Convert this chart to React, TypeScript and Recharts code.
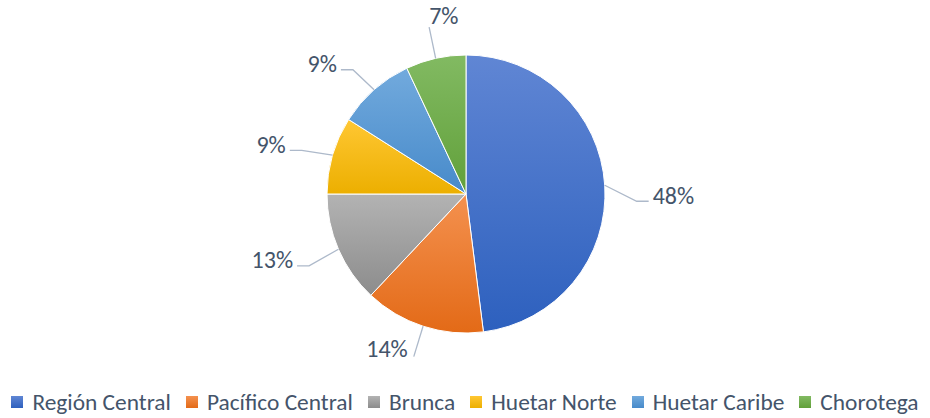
import React from "react";
import { PieChart, Pie, Cell, Legend } from "recharts";

const regions = ["Región Central", "Pacífico Central", "Brunca", "Huetar Norte", "Huetar Caribe", "Chorotega"];
const shares = [48, 14, 13, 9, 9, 7];
const topColors = ["#6086D4", "#F4914F", "#B3B3B3", "#FFC733", "#72AADD", "#82BA62"];
const bottomColors = ["#2D60BE", "#E36A17", "#8C8C8C", "#ECAF00", "#478ACA", "#61A03A"];

const data = regions.map((name, i) => ({ name, value: shares[i] }));

const RAD = Math.PI / 180;
const TEXT = "#44546A";
const LEADER = "#ADB9CA";
const FONT = "Calibri, Carlito, 'Liberation Sans', Arial, sans-serif";

const renderLabel = (p: any) => {
  const { cx, cy, midAngle, outerRadius, value } = p;
  const c = Math.cos(-midAngle * RAD);
  const s = Math.sin(-midAngle * RAD);
  const sx = cx + outerRadius * c;
  const sy = cy + outerRadius * s;

  if (Math.abs(c) < 0.4) {
    // near top / bottom: short leader, text at its end
    const ex = cx + (outerRadius + 30) * c;
    const ey = cy + (outerRadius + 32) * s;
    const top = s < 0;
    return (
      <g>
        <polyline points={`${sx},${sy} ${ex},${ey}`} fill="none" stroke={LEADER} strokeWidth={1.3} />
        <text
          x={top ? ex : ex - 6}
          y={top ? ey - 12 : ey - 8}
          textAnchor={top ? "start" : "end"}
          dominantBaseline="central"
          fill={TEXT}
          fontSize={24}
          fontFamily={FONT}
        >
          {`${value}%`}
        </text>
      </g>
    );
  }

  const ex = cx + (outerRadius + 32) * c;
  const ey = cy + (outerRadius + 32) * s + (c > 0 ? 18 : 4);
  const dir = c > 0 ? 1 : -1;
  const hx = ex + dir * 12;
  return (
    <g>
      <polyline points={`${sx},${sy} ${ex},${ey} ${hx},${ey}`} fill="none" stroke={LEADER} strokeWidth={1.3} />
      <text
        x={hx + dir * 4}
        y={ey - 6}
        textAnchor={dir > 0 ? "start" : "end"}
        dominantBaseline="central"
        fill={TEXT}
        fontSize={24}
        fontFamily={FONT}
      >
        {`${value}%`}
      </text>
    </g>
  );
};

const renderLegend = () => (
  <div
    style={{
      display: "flex",
      justifyContent: "center",
      alignItems: "center",
      gap: 15,
      fontFamily: FONT,
      fontSize: 23.4,
      lineHeight: "24px",
      color: TEXT,
      whiteSpace: "nowrap",
    }}
  >
    {regions.map((name, i) => (
      <div key={name} style={{ display: "flex", alignItems: "center", gap: 9 }}>
        <span
          style={{
            display: "inline-block",
            width: 12,
            height: 12,
            background: `linear-gradient(${topColors[i]}, ${bottomColors[i]})`,
          }}
        />
        <span>{name}</span>
      </div>
    ))}
  </div>
);

export default function App() {
  return (
    <div style={{ position: "absolute", left: 0, top: 0, width: 930, height: 418, background: "#fff" }}>
      <PieChart width={930} height={418} margin={{ top: 0, right: 0, bottom: 0, left: 0 }}>
        <defs>
          {regions.map((_, i) => (
            <linearGradient key={i} id={`grad${i}`} x1="0" y1="0" x2="0" y2="1">
              <stop offset="0%" stopColor={topColors[i]} />
              <stop offset="100%" stopColor={bottomColors[i]} />
            </linearGradient>
          ))}
        </defs>
        <Pie
          data={data}
          dataKey="value"
          nameKey="name"
          cx={466}
          cy={194}
          outerRadius={139}
          startAngle={90}
          endAngle={-270}
          stroke="#ffffff"
          strokeWidth={1}
          label={renderLabel}
          labelLine={false}
          isAnimationActive={false}
        >
          {data.map((d, i) => (
            <Cell key={d.name} fill={`url(#grad${i})`} />
          ))}
        </Pie>
        <Legend
          content={renderLegend}
          wrapperStyle={{ position: "absolute", top: 390, left: 0, width: 930 }}
        />
      </PieChart>
    </div>
  );
}
